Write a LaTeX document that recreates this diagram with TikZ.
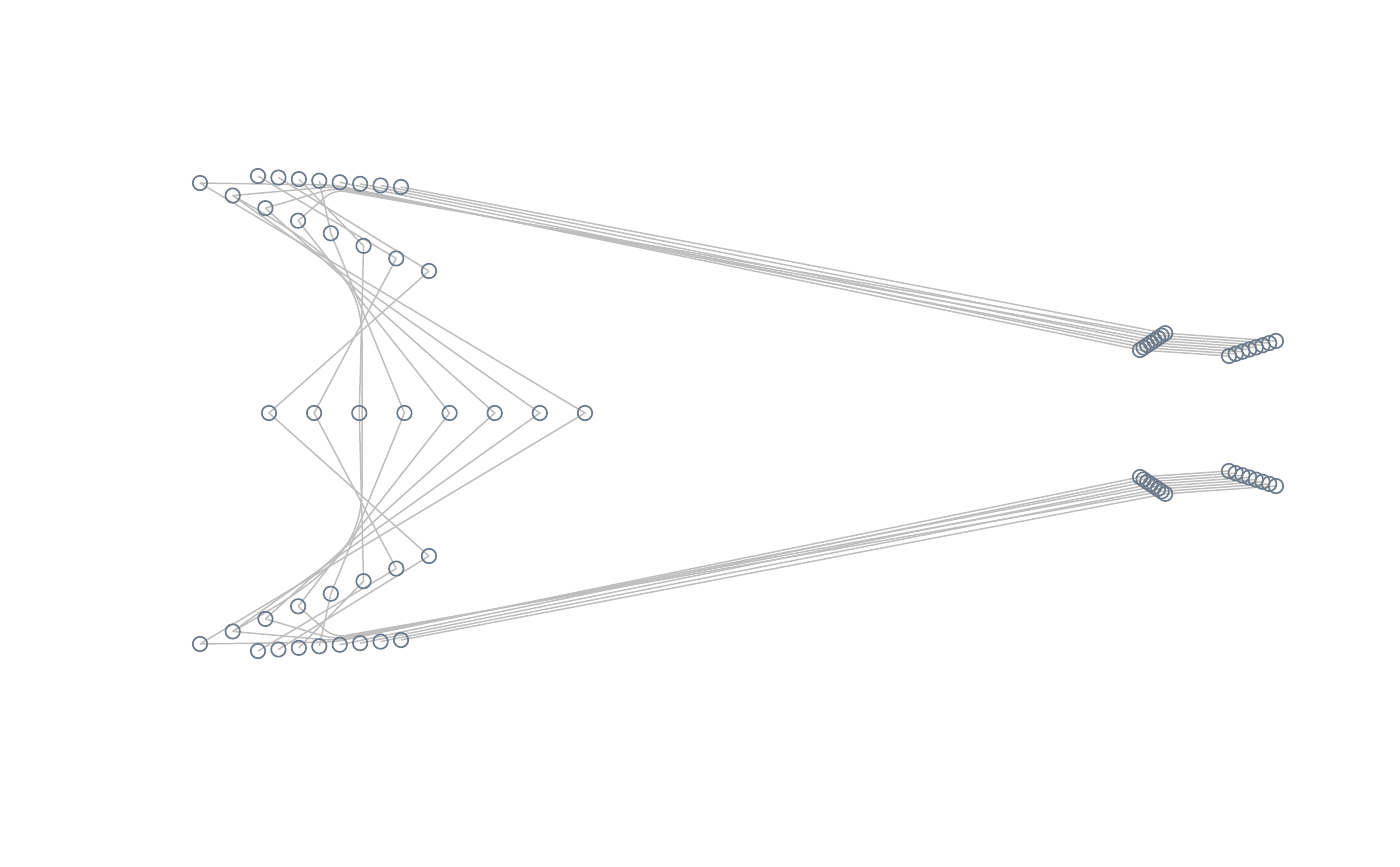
\documentclass[tikz,border=0pt]{standalone}
\usepackage{xcolor}
\definecolor{NodeSlate}{HTML}{6C7B8B}
\definecolor{EdgeGray}{HTML}{BEBEBE}
\pgfdeclarelayer{edges}
\pgfsetlayers{edges,main}
\begin{document}
\begin{tikzpicture}[x=.02cm, y=-.02cm,
		vtx/.style={circle, draw=NodeSlate, line width=.95pt, minimum size=.29cm, inner sep=0pt},
		link/.style={draw=EdgeGray, line width=.85pt}]
			\useasboundingbox (0,0) rectangle (1400,866);

			% vertices: upper half, mirrored below about y = 413.5
			\foreach \i in {1,...,8}{
				\pgfmathsetmacro\dx{200+(\i-1)*32.71}
				\pgfmathsetmacro\dy{183+(\i-1)*12.57}
				\pgfmathsetmacro\tx{258+(\i-1)*20.43}
				\pgfmathsetmacro\ty{176+(\i-1)*1.57}
				\pgfmathsetmacro\ax{1140+(\i-1)*3.6}
				\pgfmathsetmacro\ay{350-(\i-1)*2.4}
				\pgfmathsetmacro\bx{1229+(\i-1)*6.7}
				\pgfmathsetmacro\by{356-(\i-1)*2.15}
				\node[vtx] (d\i) at (\dx,\dy) {};
				\node[vtx] (e\i) at (\dx,{827-\dy}) {};
				\node[vtx] (t\i) at (\tx,\ty) {};
				\node[vtx] (b\i) at (\tx,{827-\ty}) {};
				\node[vtx] (m\i) at ({269+(\i-1)*45.14},413) {};
				\node[vtx] (ra\i) at (\ax,\ay) {};
				\node[vtx] (rc\i) at (\ax,{827-\ay}) {};
				\node[vtx] (rb\i) at (\bx,\by) {};
				\node[vtx] (rd\i) at (\bx,{827-\by}) {};
			}

			% edges
			\begin{pgfonlayer}{edges}
				\foreach \i in {1,...,8}{
					\pgfmathtruncatemacro\j{9-\i}
					\draw[link] (d\i.center) -- (m\j.center) -- (e\i.center);
					\draw[link] (ra\i.center) -- (rb\i.center);
					\draw[link] (rc\i.center) -- (rd\i.center);
				}
				% long fans to the right
				\foreach \i/\a/\b in {1/1/2, 2/3/4, 3/5/6, 4/7/8}{
					\pgfmathtruncatemacro\k{\i+4}
					\draw[link, rounded corners=6pt] (d\i.center) -- (334,{183.5+1.5*\i}) -- (ra\a.center);
					\draw[link, rounded corners=6pt] (e\i.center) -- (334,{643.5-1.5*\i}) -- (rc\a.center);
					\draw[link] (t\k.center) -- (ra\b.center);
					\draw[link] (b\k.center) -- (rc\b.center);
				}
				\foreach \i/\j in {1/7, 2/8, 3/6, 4/5}{
					\draw[link] (t\i.center) -- (d\j.center);
					\draw[link] (b\i.center) -- (e\j.center);
				}
				\draw[link] (d2.center) .. controls (330,250) and (362,280) .. (362,340) -- (362,487) .. controls (362,547) and (330,577) .. (e2.center);
			\end{pgfonlayer}

		\end{tikzpicture}
\end{document}
